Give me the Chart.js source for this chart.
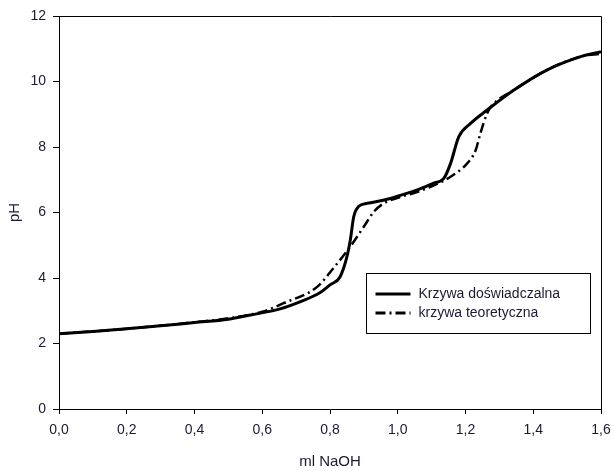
<!DOCTYPE html>
<html>
<head>
<meta charset="utf-8">
<script src="https://cdn.jsdelivr.net/npm/chart.js@4/dist/chart.umd.min.js"></script>
<style>
  html,body{margin:0;padding:0;background:#fff;}
  #wrap{width:614px;height:471px;}
</style>
</head>
<body>
<div id="wrap"><canvas id="c" width="614" height="471"></canvas></div>
<script>
// values
const expX = [0, 0.1, 0.2, 0.3, 0.4, 0.5, 0.565, 0.65, 0.713, 0.77, 0.80, 0.83, 0.85, 0.86, 0.87, 0.884, 0.91, 0.96, 1.01, 1.06, 1.106, 1.136, 1.156, 1.18, 1.215, 1.264, 1.343, 1.44, 1.54, 1.60];
const expY = [2.3, 2.37, 2.45, 2.54, 2.64, 2.74, 2.87, 3.05, 3.28, 3.55, 3.79, 4.04, 4.65, 5.16, 5.87, 6.18, 6.28, 6.38, 6.53, 6.7, 6.9, 7.04, 7.5, 8.31, 8.72, 9.13, 9.74, 10.35, 10.76, 10.91];
const theoX = [0, 0.2, 0.4, 0.5, 0.6, 0.663, 0.762, 0.81, 0.86, 0.9, 0.93, 0.959, 1.0, 1.05, 1.1, 1.156, 1.205, 1.23, 1.244, 1.264, 1.279, 1.343, 1.44, 1.54, 1.60];
const theoY = [2.3, 2.45, 2.65, 2.77, 2.97, 3.23, 3.73, 4.3, 4.96, 5.57, 6.03, 6.28, 6.45, 6.6, 6.8, 7.09, 7.5, 7.9, 8.42, 9.03, 9.28, 9.74, 10.35, 10.76, 10.85];
const seriesNames = ['Krzywa doświadczalna', 'krzywa teoretyczna'];
const xTicks = [0, 0.2, 0.4, 0.6, 0.8, 1.0, 1.2, 1.4, 1.6];
const yTicks = [0, 2, 4, 6, 8, 10, 12];

const FONT = '"Liberation Sans", Arial, sans-serif';
const pts = (xs, ys) => xs.map((x, i) => ({x: x, y: ys[i]}));

// frame on top/right of the plot area
const frame = {
  id: 'frame',
  afterDatasetsDraw(chart){
    const a = chart.chartArea, ctx = chart.ctx;
    ctx.save();
    ctx.strokeStyle = '#000'; ctx.lineWidth = 1;
    ctx.beginPath();
    ctx.moveTo(a.left, a.top + 0.5); ctx.lineTo(a.right + 0.5, a.top + 0.5);
    ctx.lineTo(a.right + 0.5, a.bottom);
    ctx.stroke();
    ctx.restore();
  }
};

// legend box inside the plot
const boxLegend = {
  id: 'boxLegend',
  afterDraw(chart){
    const ctx = chart.ctx;
    const x0 = 366.5, y0 = 273.5, w = 224, h = 60;
    ctx.save();
    ctx.fillStyle = '#fff';
    ctx.fillRect(x0, y0, w, h);
    ctx.strokeStyle = '#000'; ctx.lineWidth = 1;
    ctx.strokeRect(x0, y0, w, h);
    ctx.font = '14px ' + FONT;
    ctx.textBaseline = 'middle';
    chart.data.datasets.forEach((ds, i) => {
      const y = y0 + 20.5 + i * 19;
      ctx.strokeStyle = ds.borderColor;
      ctx.lineWidth = 3;
      ctx.setLineDash(ds.borderDash || []);
      ctx.beginPath();
      ctx.moveTo(x0 + 9, y); ctx.lineTo(x0 + 44, y);
      ctx.stroke();
      ctx.setLineDash([]);
      ctx.fillStyle = '#1a1a33';
      ctx.fillText(ds.label, x0 + 52, y);
    });
    ctx.restore();
  }
};

new Chart(document.getElementById('c'), {
  type: 'scatter',
  data: {
    datasets: [
      {label: seriesNames[0], data: pts(expX, expY), showLine: true, borderColor: '#000', borderWidth: 3, pointRadius: 0, cubicInterpolationMode: 'monotone'},
      {label: seriesNames[1], data: pts(theoX, theoY), showLine: true, borderColor: '#000', borderWidth: 2.5, borderDash: [10, 4, 2, 4], pointRadius: 0, cubicInterpolationMode: 'monotone'}
    ]
  },
  options: {
    responsive: false,
    animation: false,
    layout: {padding: {left: 0, right: 13, top: 16, bottom: 0}},
    plugins: {legend: {display: false}, tooltip: {enabled: false}},
    scales: {
      x: {
        type: 'linear', min: 0, max: 1.6,
        afterBuildTicks: s => { s.ticks = xTicks.map(v => ({value: v})); },
        afterFit: s => { s.height = 62; s.paddingLeft = 0; s.paddingRight = 0; },
        border: {color: '#000', width: 1},
        grid: {drawOnChartArea: false, tickLength: 5, color: '#000'},
        ticks: {color: '#1a1a33', font: {family: FONT, size: 14}, padding: 8,
          callback: v => v.toFixed(1).replace('.', ',')},
        title: {display: true, text: 'ml NaOH', color: '#1a1a33', font: {family: FONT, size: 15}, padding: {top: 4, bottom: 0}}
      },
      y: {
        min: 0, max: 12,
        afterBuildTicks: s => { s.ticks = yTicks.map(v => ({value: v})); },
        afterFit: s => { s.width = 59; s.paddingTop = 0; s.paddingBottom = 0; },
        border: {color: '#000', width: 1},
        grid: {drawOnChartArea: false, tickLength: 6, color: '#000'},
        ticks: {color: '#1a1a33', font: {family: FONT, size: 14}, padding: 7},
        title: {display: true, text: 'pH', color: '#1a1a33', font: {family: FONT, size: 15}, padding: {bottom: 0, top: 6}}
      }
    }
  },
  plugins: [frame, boxLegend]
});
</script>
</body>
</html>
